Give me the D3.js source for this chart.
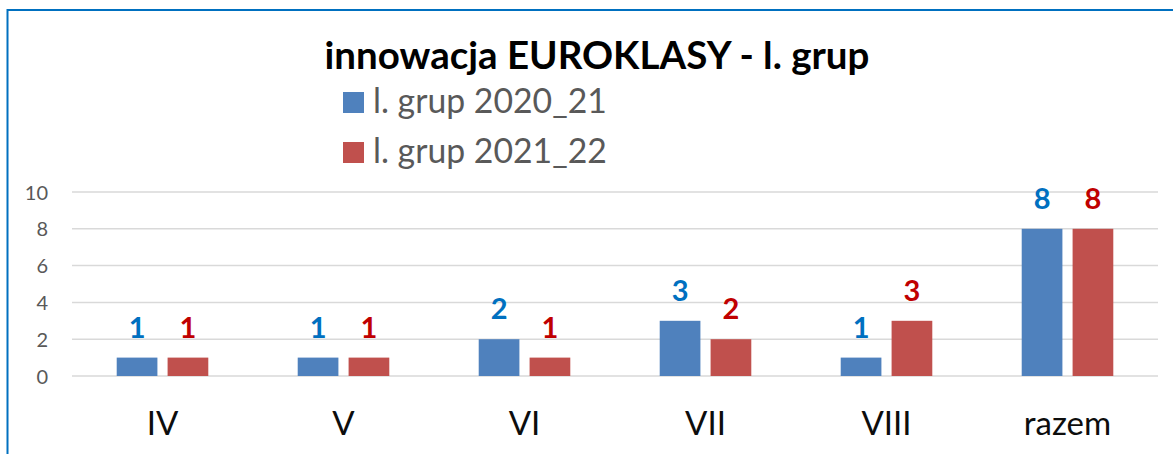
<!DOCTYPE html>
<html><head><meta charset="utf-8">
<script src="https://cdn.jsdelivr.net/npm/d3@7"></script>
<style>html,body{margin:0;padding:0;background:#fff;}svg{display:block;}</style>
</head><body>
<script>
const categories = ["IV", "V", "VI", "VII", "VIII", "razem"];
const seriesNames = ["l. grup 2020_21", "l. grup 2021_22"];
const values2020_21 = [1, 1, 2, 3, 1, 8];
const values2021_22 = [1, 1, 1, 2, 3, 8];
const yTicks = [0, 2, 4, 6, 8, 10];
const titleText = "innowacja EUROKLASY - l. grup";

const W = 1173, H = 454;
const barColors = ["#4F81BD", "#C0504D"];
const labelColors = ["#0070C0", "#C00000"];
const FONT = "Lato, 'Open Sans', sans-serif";

const svg = d3.select("body").append("svg").attr("width", W).attr("height", H);
svg.append("rect").attr("width", W).attr("height", H).attr("fill", "#fff");

// frame
svg.append("path").attr("d", `M7.5,${H} L7.5,10 L${W},10`)
  .attr("fill", "none").attr("stroke", "#0070C0").attr("stroke-width", 2);

const x0 = d3.scaleBand().domain(categories).range([72, 1158]).paddingInner(0.494).paddingOuter(0.247);
const x1 = d3.scaleBand().domain([0, 1]).range([0, x0.bandwidth()]).paddingInner(0.2);
const y = d3.scaleLinear().domain([0, 10]).range([376, 192]);

function fit(sel, target) {
  const n = sel.node();
  const fs = parseFloat(sel.attr("font-size"));
  const len = n.getComputedTextLength();
  sel.attr("font-size", fs * target / len);
}

// gridlines
svg.append("g").selectAll("line").data(yTicks).join("line")
  .attr("x1", 72).attr("x2", 1158)
  .attr("y1", d => y(d)).attr("y2", d => y(d))
  .attr("stroke", "#D9D9D9").attr("stroke-width", 1.5);

// y axis labels
const yAxis = d3.axisLeft(y).tickValues(yTicks).tickSize(0).tickPadding(0);
const ya = svg.append("g").attr("transform", "translate(48,0)").call(yAxis);
ya.select(".domain").remove();
ya.selectAll("text").attr("font-family", FONT).attr("font-size", 20).attr("fill", "#595959").attr("dy", "0.35em");

// x axis labels
const xAxis = d3.axisBottom(x0).tickSize(0).tickPadding(0);
const xa = svg.append("g").attr("transform", "translate(0,435)").call(xAxis);
xa.select(".domain").remove();
xa.selectAll("text").attr("font-family", FONT).attr("font-size", 33).attr("fill", "#0D0D0D").attr("dy", 0);

const series = [values2020_21, values2021_22];
const data = [];
categories.forEach((c, i) => series.forEach((s, k) => data.push({c, k, v: s[i]})));

svg.append("g").selectAll("rect").data(data).join("rect")
  .attr("x", d => x0(d.c) + x1(d.k))
  .attr("width", x1.bandwidth())
  .attr("y", d => y(d.v))
  .attr("height", d => y(0) - y(d.v))
  .attr("fill", d => barColors[d.k]);

svg.append("g").selectAll("text").data(data).join("text")
  .attr("x", d => x0(d.c) + x1(d.k) + x1.bandwidth() / 2)
  .attr("y", d => y(d.v) - 20)
  .attr("text-anchor", "middle")
  .attr("font-family", FONT).attr("font-weight", "bold").attr("font-size", 29)
  .attr("fill", d => labelColors[d.k])
  .text(d => d.v);

// title
const t = svg.append("text").attr("x", 597).attr("y", 69).attr("text-anchor", "middle")
  .attr("font-family", FONT).attr("font-weight", "bold").attr("font-size", 33)
  .attr("fill", "#000").text(titleText);
fit(t, 545);

// legend
seriesNames.forEach((name, k) => {
  const by = 113 + k * 50;
  svg.append("rect").attr("x", 343).attr("y", by - 21).attr("width", 21).attr("height", 21).attr("fill", barColors[k]);
  const lt = svg.append("text").attr("x", 373).attr("y", by)
    .attr("font-family", FONT).attr("font-size", 28).attr("fill", "#595959").text(name);
  fit(lt, 234);
});
</script>
</body></html>
